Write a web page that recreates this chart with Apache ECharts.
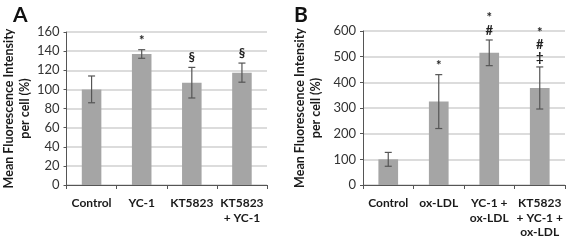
<!DOCTYPE html>
<html><head><meta charset="utf-8">
<script src="https://cdn.jsdelivr.net/npm/echarts@6/dist/echarts.min.js"></script>
<style>html,body{margin:0;padding:0;background:#fff}#c{width:567px;height:241px}</style>
</head><body><div id="c"></div>
<script>
const catsA = ['Control', 'YC-1', 'KT5823', 'KT5823\n+ YC-1'];
const valsA = [100, 137, 107, 117.5];
const errA = [14, 4.5, 16, 10];
const annotA = ['', '*', '§', '§'];
const ticksA = [0, 20, 40, 60, 80, 100, 120, 140, 160];

const catsB = ['Control', 'ox-LDL', 'YC-1 +\nox-LDL', 'KT5823\n+ YC-1 +\nox-LDL'];
const valsB = [100, 325, 515, 378];
const errB = [27, 105, 50, 82];
const annotB = ['', '*', '*\n#', '*\n#\n‡'];
const ticksB = [0, 100, 200, 300, 400, 500, 600];

const FONT = 'Lato, "Liberation Sans", sans-serif';
const barColor = '#a5a5a5';
const errColor = '#555555';

function errSeries(xi, yi, vals, errs, annots) {
  return {
    type: 'custom', xAxisIndex: xi, yAxisIndex: yi, z: 5,
    data: vals.map((v, i) => [i, v, errs[i]]),
    renderItem: function (params, api) {
      const i = api.value(0), v = api.value(1), e = api.value(2);
      const top = api.coord([i, v + e]);
      const bot = api.coord([i, v - e]);
      const hw = 3.5;
      const st = { stroke: errColor, lineWidth: 1.2 };
      const children = [
        { type: 'line', shape: { x1: top[0], y1: top[1], x2: bot[0], y2: bot[1] }, style: st },
        { type: 'line', shape: { x1: top[0] - hw, y1: top[1], x2: top[0] + hw, y2: top[1] }, style: st },
        { type: 'line', shape: { x1: bot[0] - hw, y1: bot[1], x2: bot[0] + hw, y2: bot[1] }, style: st }
      ];
      const t = annots[params.dataIndex];
      if (t) {
        children.push({
          type: 'text', x: top[0], y: top[1] - 3,
          style: { text: t, fill: '#222', font: 'bold 13px ' + FONT, align: 'center', verticalAlign: 'bottom', lineHeight: 12.5 }
        });
      }
      return { type: 'group', children: children };
    }
  };
}

function yAx(gi, max, interval, name, gap) {
  return {
    type: 'value', gridIndex: gi, min: 0, max: max, interval: interval,
    name: name, nameLocation: 'middle', nameGap: gap, nameRotate: 90,
    nameTextStyle: { fontFamily: FONT, fontWeight: 'bold', fontSize: 12.5, color: '#1a1a1a', lineHeight: 16 },
    axisLine: { show: true, lineStyle: { color: '#555', width: 1 } },
    axisTick: { show: true, length: 3, lineStyle: { color: '#555' } },
    axisLabel: { fontFamily: FONT, fontSize: 13, color: '#333', margin: 7 },
    splitLine: { show: true, lineStyle: { color: '#d0d0d0', width: 1.5 } }
  };
}
function xAx(gi, cats) {
  return {
    type: 'category', gridIndex: gi, data: cats,
    axisLine: { show: true, lineStyle: { color: '#555', width: 1 } },
    axisTick: { show: true, length: 4, alignWithLabel: false, lineStyle: { color: '#555' } },
    axisLabel: { fontFamily: FONT, fontWeight: 'bold', fontSize: 12, color: '#1a1a1a', margin: 11, lineHeight: 14.5, interval: 0 }
  };
}

const chart = echarts.init(document.getElementById('c'), null, { renderer: 'canvas' });
chart.setOption({
  animation: false,
  backgroundColor: '#fff',
  title: [
    { text: 'A', left: 8, top: 0, textStyle: { fontFamily: FONT, fontWeight: 'bold', fontSize: 21, color: '#111' } },
    { text: 'B', left: 289, top: 0, textStyle: { fontFamily: FONT, fontWeight: 'bold', fontSize: 21, color: '#111' } }
  ],
  grid: [
    { left: 65, right: 300, top: 32, bottom: 56 },
    { left: 363, right: 2, top: 31, bottom: 56 }
  ],
  xAxis: [xAx(0, catsA), xAx(1, catsB)],
  yAxis: [
    yAx(0, ticksA[ticksA.length - 1], ticksA[1] - ticksA[0], 'Mean Fluorescence Intensity\nper cell (%)', 33),
    yAx(1, ticksB[ticksB.length - 1], ticksB[1] - ticksB[0], 'Mean Fluorescence Intensity\nper cell (%)', 39)
  ],
  series: [
    { type: 'bar', xAxisIndex: 0, yAxisIndex: 0, data: valsA, barWidth: '39%', itemStyle: { color: barColor } },
    errSeries(0, 0, valsA, errA, annotA),
    { type: 'bar', xAxisIndex: 1, yAxisIndex: 1, data: valsB, barWidth: '39%', itemStyle: { color: barColor } },
    errSeries(1, 1, valsB, errB, annotB)
  ]
});
</script></body></html>
